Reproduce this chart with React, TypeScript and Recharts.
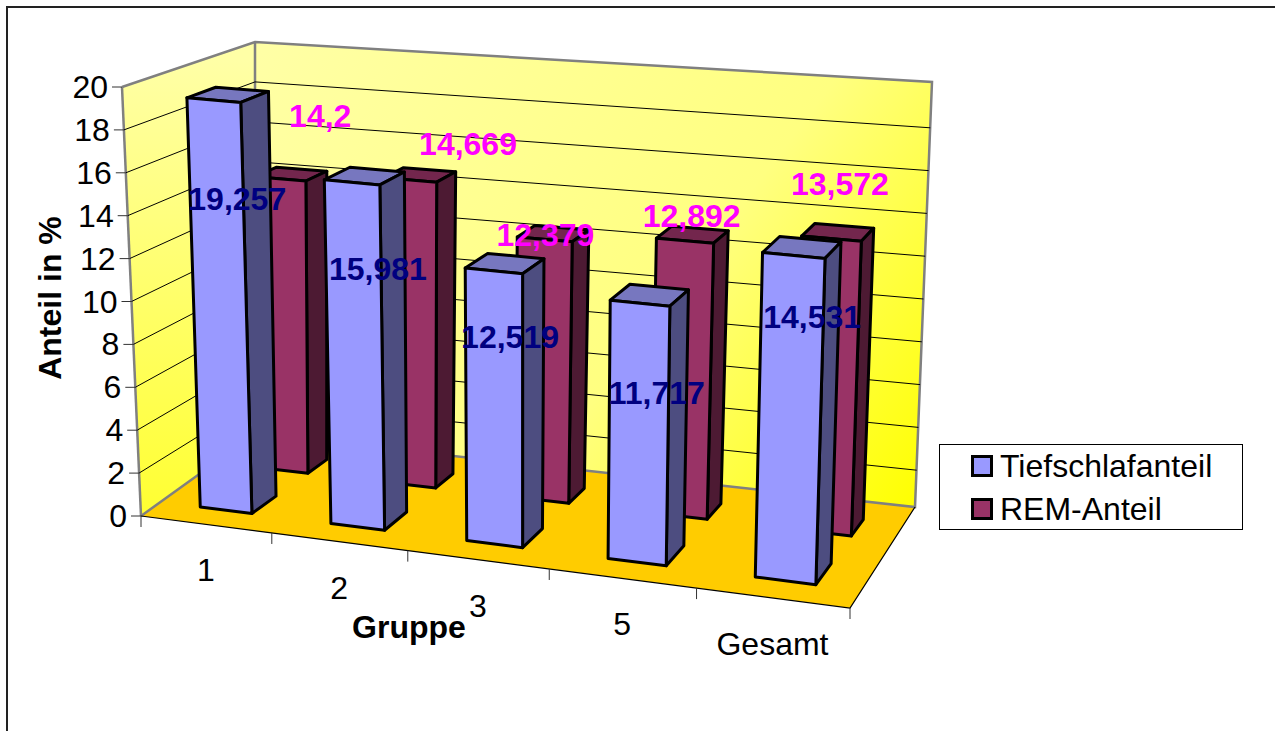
import React from 'react';
import { ComposedChart, Bar, XAxis, YAxis, CartesianGrid, LabelList, Legend } from 'recharts';

const categories = ['1', '2', '3', '5', 'Gesamt'];
const tiefschlaf = [19.257, 15.981, 12.519, 11.717, 14.531];
const rem = [14.2, 14.669, 12.379, 12.892, 13.572];
const valueTicks = [0, 2, 4, 6, 8, 10, 12, 14, 16, 18, 20];
const tiefName = 'Tiefschlafanteil';
const remName = 'REM-Anteil';

const data = categories.map((c, i) => ({ c, tief: tiefschlaf[i], rem: rem[i] }));

const W = 1275, H = 731;
const PL = 100, PT = 100, PW = 1000, PH = 500;
const FS = 32;
const FONT = '"Liberation Sans", Arial, sans-serif';

// 3D box corners on screen [x, y]
const A = [141, 516], B = [850, 608], C = [915, 513], D = [255, 441];
const E = [122, 87], F = [864, 152], G = [932, 85], Hh = [255, 42];
const floorBackLeft = [255, 434];
const floorBackRight = [915, 507];
const wallTopRight = [932, 82];

const warp = (t: number, k: number) => t / (t + k * (1 - t));
const lerp = (a: number, b: number, t: number) => a + (b - a) * t;
const project = (u: number, v: number, d: number) => {
  const uu = warp(u, 1.105), dd = warp(d, 0.78);
  const out = [0, 1].map((i) => {
    const bot = lerp(lerp(A[i], B[i], uu), lerp(D[i], C[i], uu), dd);
    const top = lerp(lerp(E[i], F[i], uu), lerp(Hh[i], G[i], uu), dd);
    return lerp(bot, top, v);
  });
  return out as [number, number];
};
const pts = (list: number[][]) => list.map((p) => `${p[0]},${p[1]}`).join(' ');
const toU = (x: number) => (x - PL) / PW;
const toV = (y: number) => (PT + PH - y) / PH;

const DEPTH = { tief: [0.15, 0.35], rem: [0.65, 0.85] };
const COLORS = {
  tief: { front: '#9999FF', side: '#4D4D80', top: '#7777BF' },
  rem: { front: '#993366', side: '#4D1A33', top: '#73264D' },
};

const box = (series: 'tief' | 'rem') => (props: any) => {
  const { x, y, width, height } = props;
  const u0 = toU(x), u1 = toU(x + width);
  const v1 = toV(y), v0 = toV(y + height);
  const [d0, d1] = DEPTH[series];
  const c = COLORS[series];
  const f = [project(u0, v0, d0), project(u1, v0, d0), project(u1, v1, d0), project(u0, v1, d0)];
  const s = [project(u1, v0, d0), project(u1, v0, d1), project(u1, v1, d1), project(u1, v1, d0)];
  const t = [project(u0, v1, d0), project(u1, v1, d0), project(u1, v1, d1), project(u0, v1, d1)];
  const st = { stroke: '#000', strokeWidth: 3, strokeLinejoin: 'round' as const };
  return (
    <g>
      <polygon points={pts(t)} fill={c.top} {...st} />
      <polygon points={pts(s)} fill={c.side} {...st} />
      <polygon points={pts(f)} fill={c.front} {...st} />
    </g>
  );
};

const labelNudge = {
  tief: [[9, 104], [13, 93], [5, 74], [7, 98], [10, 70]],
  rem: [[29, -58], [48, -31], [-8, 2], [-1, -18], [2, -48]],
};

const barLabel = (series: 'tief' | 'rem', color: string) => (props: any) => {
  const { x, y, width, value, index } = props;
  const [d0, d1] = DEPTH[series];
  const p = project(toU(x + width / 2), toV(y), (d0 + d1) / 2);
  const [dx, dy] = labelNudge[series][index];
  return (
    <text x={p[0] + dx} y={p[1] + dy} textAnchor="middle" dominantBaseline="central"
      fontFamily={FONT} fontWeight="bold" fontSize={FS} fill={color}>
      {String(value).replace('.', ',')}
    </text>
  );
};

const Walls = () => (
  <g>
    <defs>
      <linearGradient id="wallBack" gradientUnits="userSpaceOnUse" x1={255} y1={42} x2={900} y2={530}>
        <stop offset="0" stopColor="#FFFFA6" />
        <stop offset="0.6" stopColor="#FFFF80" />
        <stop offset="1" stopColor="#FFFF00" />
      </linearGradient>
      <linearGradient id="wallLeft" gradientUnits="userSpaceOnUse" x1={190} y1={60} x2={190} y2={510}>
        <stop offset="0" stopColor="#FFFFA6" />
        <stop offset="1" stopColor="#FFFF33" />
      </linearGradient>
    </defs>
    <polygon points={pts([floorBackLeft, floorBackRight, wallTopRight, Hh])} fill="url(#wallBack)" />
    <polygon points={pts([A, floorBackLeft, Hh, E])} fill="url(#wallLeft)" />
    <polygon points={pts([A, B, floorBackRight, floorBackLeft])} fill="#FFCC00" />
    <polyline points={pts([E, Hh, wallTopRight, floorBackRight, floorBackLeft, A])} fill="none" stroke="#808080" strokeWidth={2.5} />
    <line x1={floorBackLeft[0]} y1={floorBackLeft[1]} x2={Hh[0]} y2={Hh[1]} stroke="#808080" strokeWidth={2.5} />
    <line x1={E[0]} y1={E[1]} x2={A[0]} y2={A[1]} stroke="#808080" strokeWidth={2.5} />
    <polyline points={pts([A, B, floorBackRight])} fill="none" stroke="#000" strokeWidth={1.2} />
    {[0, 0.2, 0.4, 0.6, 0.8, 1].map((u) => {
      const p = project(u, 0, 0);
      return <line key={u} x1={p[0]} y1={p[1]} x2={p[0]} y2={p[1] + 11} stroke="#333" strokeWidth={1} />;
    })}
    <text x={50} y={298} transform="rotate(-90 50 298)" textAnchor="middle" dominantBaseline="central"
      fontFamily={FONT} fontWeight="bold" fontSize={FS} fill="#000">Anteil in %</text>
    <text x={409} y={627} textAnchor="middle" dominantBaseline="central"
      fontFamily={FONT} fontWeight="bold" fontSize={FS} fill="#000">Gruppe</text>
  </g>
);

const gridLine = (props: any) => {
  const { y1 } = props;
  const v = toV(y1);
  if (v <= 0.001) return <Walls key="walls" />;
  if (v >= 0.999) return <g key="top" />;
  return <polyline key={y1} points={pts([project(0, v, 0), project(0, v, 1), project(1, v, 1)])} fill="none" stroke="#000" strokeWidth={1} />;
};

const YTick = (props: any) => {
  const { y, payload } = props;
  const p = project(0, toV(y), 0);
  return (
    <g>
      <line x1={p[0] - 10} y1={p[1]} x2={p[0]} y2={p[1]} stroke="#333" strokeWidth={1} />
      <text x={p[0] - 14} y={p[1]} textAnchor="end" dominantBaseline="central" fontFamily={FONT} fontSize={FS} fill="#000">
        {payload.value}
      </text>
    </g>
  );
};

const XTick = (props: any) => {
  const { x, payload } = props;
  const p = project(toU(x), 0, 0);
  return (
    <text x={p[0]} y={p[1] + 46} textAnchor="middle" dominantBaseline="central" fontFamily={FONT}
      fontSize={FS} fill="#000">
      {payload.value}
    </text>
  );
};

const LegendBox = (props: any) => {
  const items = [...(props.payload || [])].reverse();
  return (
    <div style={{ width: 302, height: 84, border: '1.5px solid #000', background: '#fff', boxSizing: 'content-box', position: 'relative' }}>
      {items.map((it: any, i: number) => (
        <div key={it.value} style={{ position: 'absolute', left: 31, top: 1 + i * 43, display: 'flex', alignItems: 'center', height: 40 }}>
          <span style={{ width: 16, height: 16, border: '3px solid #000', background: it.color, display: 'inline-block' }} />
          <span style={{ marginLeft: 7, fontFamily: FONT, fontSize: FS, color: '#000', lineHeight: '40px', whiteSpace: 'nowrap' }}>{it.value}</span>
        </div>
      ))}
    </div>
  );
};

export default function App() {
  return (
    <div style={{ position: 'absolute', left: 0, top: 0, width: W, height: H, overflow: 'hidden', background: '#fff' }}>
      <div style={{ position: 'absolute', left: 6, top: 6, width: 1400, height: 900, border: '2px solid #222' }} />
      <ComposedChart width={W} height={H} data={data} barSize={80} barGap={-80}
        margin={{ left: PL - 1, top: PT, right: W - PL - PW, bottom: H - PT - PH - 1 }}
        style={{ position: 'absolute', left: 0, top: 0 }}>
        <CartesianGrid vertical={false} horizontal={gridLine} syncWithTicks />
        <XAxis dataKey="c" type="category" height={1} axisLine={false} tickLine={false} interval={0} tick={XTick} />
        <YAxis type="number" domain={[0, 20]} ticks={valueTicks} width={1} axisLine={false} tickLine={false} interval={0} tick={YTick} />
        <Legend layout="vertical" align="center" verticalAlign="middle" wrapperStyle={{ left: 939, top: 444, width: 305 }} content={LegendBox} />
        <Bar dataKey="rem" name={remName} fill={COLORS.rem.front} shape={box('rem')} isAnimationActive={false}>
          <LabelList dataKey="rem" content={barLabel('rem', '#FF00FF')} />
        </Bar>
        <Bar dataKey="tief" name={tiefName} fill={COLORS.tief.front} shape={box('tief')} isAnimationActive={false}>
          <LabelList dataKey="tief" content={barLabel('tief', '#000080')} />
        </Bar>
      </ComposedChart>
    </div>
  );
}
